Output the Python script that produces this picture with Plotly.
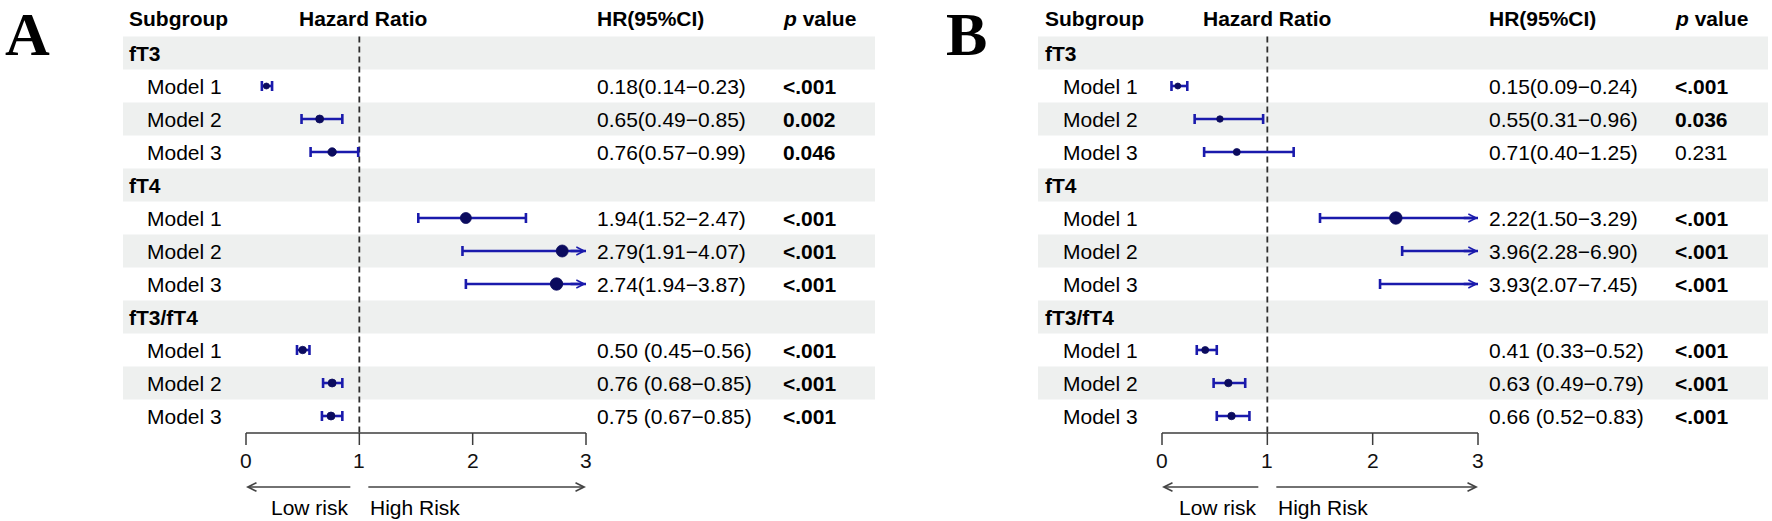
import plotly.graph_objects as go

# ---------------- data ----------------
groups = ["fT3", "fT4", "fT3/fT4"]
models = ["Model 1", "Model 2", "Model 3"]

a_hr = [0.18, 0.65, 0.76, 1.94, 2.79, 2.74, 0.50, 0.76, 0.75]
a_lo = [0.14, 0.49, 0.57, 1.52, 1.91, 1.94, 0.45, 0.68, 0.67]
a_hi = [0.23, 0.85, 0.99, 2.47, 4.07, 3.87, 0.56, 0.85, 0.85]
a_p = ["<.001", "0.002", "0.046", "<.001", "<.001", "<.001", "<.001", "<.001", "<.001"]

b_hr = [0.15, 0.55, 0.71, 2.22, 3.96, 3.93, 0.41, 0.63, 0.66]
b_lo = [0.09, 0.31, 0.40, 1.50, 2.28, 2.07, 0.33, 0.49, 0.52]
b_hi = [0.24, 0.96, 1.25, 3.29, 6.90, 7.45, 0.52, 0.79, 0.83]
b_p = ["<.001", "0.036", "0.231", "<.001", "<.001", "<.001", "<.001", "<.001", "<.001"]

axis_ticks = [0, 1, 2, 3]
tick_labels = ["0", "1", "2", "3"]
ref_value = 1
col_headers = ["Subgroup", "Hazard Ratio", "HR(95%CI)", "<i>p</i> value"]
risk_labels = ["Low risk", "High Risk"]
panel_letters = ["A", "B"]

# ---------------- layout / style ----------------
W, H = 1772, 521
FONT = "Liberation Sans"
FS = 21
ROW0_PX, ROW_PX = 53, 33
HEADER_PX = 18
AXIS_PX, TICK_LEN_PX, TICKLAB_PX = 433, 12, 460
ARROW_PX, RISK_PX = 487, 507
LINE_C = "#1a1aac"
PT_C = "#0b0b5e"
BAND_C = "#eef0ef"
HR_SEP = ["", "", " "]  # separator before "(" per group
LETTER_FS = 62

PANELS = [
    dict(letter_px=27.5, x0=246, x3=586, band=(123, 875), grp=129, mod=147,
         hrh=299, hr=597, p=783,
         sizes=[6, 8, 8.5, 11, 12, 12.5, 7.5, 8, 8],
         hr_v=a_hr, lo_v=a_lo, hi_v=a_hi, p_v=a_p),
    dict(letter_px=966, x0=1162, x3=1478, band=(1038, 1768), grp=1045, mod=1063,
         hrh=1203, hr=1489, p=1675,
         sizes=[6, 6.5, 7, 12.5, 12, 12, 7, 7.5, 7.5],
         hr_v=b_hr, lo_v=b_lo, hi_v=b_hi, p_v=b_p),
]


def py2r(py):
    return (py - ROW0_PX) / ROW_PX


def p_num(s):
    return 0.001 if s.startswith("<") else float(s)


xmax = axis_ticks[-1]
fig = go.Figure()
annotations = []
shapes = []
layout_axes = {}

for k, P in enumerate(PANELS):
    xa = "x" if k == 0 else "x2"
    unit = (P["x3"] - P["x0"]) / xmax

    def px2x(px, P=P, unit=unit):
        return (px - P["x0"]) / unit

    axname = "xaxis" if k == 0 else "xaxis2"
    ax = dict(range=[px2x(0), px2x(W)], visible=False, fixedrange=True)
    if k == 1:
        ax["overlaying"] = "x"
    layout_axes[axname] = ax

    # row bands
    nrows = len(groups) * (len(models) + 1)
    for r in range(0, nrows, 2):
        shapes.append(dict(type="rect", xref=xa, yref="y",
                           x0=px2x(P["band"][0]), x1=px2x(P["band"][1]),
                           y0=r - 0.5, y1=r + 0.5, fillcolor=BAND_C,
                           line=dict(width=0), layer="below"))

    # reference dashed line
    r_axis = py2r(AXIS_PX)
    fig.add_trace(go.Scatter(x=[ref_value, ref_value], y=[-0.5, r_axis], xaxis=xa, yaxis="y",
                             mode="lines", line=dict(color="#2e2e2e", width=1.8, dash="6px,4px"),
                             hoverinfo="skip", showlegend=False))

    # axis line and ticks
    ax_x = [axis_ticks[0], axis_ticks[-1], None]
    ax_y = [r_axis, r_axis, None]
    r_tick = py2r(AXIS_PX + TICK_LEN_PX)
    for t in axis_ticks:
        ax_x += [t, t, None]
        ax_y += [r_axis, r_tick, None]
    fig.add_trace(go.Scatter(x=ax_x, y=ax_y, xaxis=xa, yaxis="y", mode="lines",
                             line=dict(color="#3c3c3c", width=1.5),
                             hoverinfo="skip", showlegend=False))
    for t, lab in zip(axis_ticks, tick_labels):
        annotations.append(dict(x=t, y=py2r(TICKLAB_PX), xref=xa, yref="y", text=lab,
                                showarrow=False, xanchor="center", yanchor="middle",
                                font=dict(family=FONT, size=FS, color="#111")))

    # CI lines, caps, points
    ci_x, ci_y, cap_x, cap_y = [], [], [], []
    pt_x, pt_y, pt_s = [], [], []
    ch = 5 / ROW_PX
    for g, grp in enumerate(groups):
        r_g = g * (len(models) + 1)
        annotations.append(dict(x=px2x(P["grp"] - 2), y=r_g, xref=xa, yref="y",
                                text="<b>%s</b>" % grp, showarrow=False,
                                xanchor="left", yanchor="middle",
                                font=dict(family=FONT, size=FS, color="black")))
        for m, mod in enumerate(models):
            i = g * len(models) + m
            r = r_g + 1 + m
            hr, lo, hi, p = P["hr_v"][i], P["lo_v"][i], P["hi_v"][i], P["p_v"][i]
            annotations.append(dict(x=px2x(P["mod"] - 2), y=r, xref=xa, yref="y",
                                    text=mod, showarrow=False, xanchor="left", yanchor="middle",
                                    font=dict(family=FONT, size=FS, color="black")))
            hr_txt = "%.2f%s(%.2f\u2212%.2f)" % (hr, HR_SEP[g], lo, hi)
            annotations.append(dict(x=px2x(P["hr"] - 2), y=r, xref=xa, yref="y",
                                    text=hr_txt, showarrow=False, xanchor="left", yanchor="middle",
                                    font=dict(family=FONT, size=FS, color="black")))
            p_txt = "<b>%s</b>" % p if p_num(p) < 0.05 else p
            annotations.append(dict(x=px2x(P["p"] - 2), y=r, xref=xa, yref="y",
                                    text=p_txt, showarrow=False, xanchor="left", yanchor="middle",
                                    font=dict(family=FONT, size=FS, color="black")))
            end = min(hi, xmax)
            ci_x += [lo, end, None]
            ci_y += [r, r, None]
            cap_x += [lo, lo, None]
            cap_y += [r - ch, r + ch, None]
            if hi <= xmax:
                cap_x += [hi, hi, None]
                cap_y += [r - ch, r + ch, None]
            else:
                annotations.append(dict(x=xmax, y=r, xref=xa, yref="y",
                                        ax=xmax - 0.15, ay=r, axref=xa, ayref="y",
                                        text="", showarrow=True, arrowhead=5,
                                        arrowsize=0.6, arrowwidth=2.6, arrowcolor=LINE_C))
            if hr <= xmax:
                pt_x.append(hr)
                pt_y.append(r)
                pt_s.append(P["sizes"][i])

    fig.add_trace(go.Scatter(x=ci_x, y=ci_y, xaxis=xa, yaxis="y", mode="lines",
                             line=dict(color=LINE_C, width=2.6), hoverinfo="skip", showlegend=False))
    fig.add_trace(go.Scatter(x=cap_x, y=cap_y, xaxis=xa, yaxis="y", mode="lines",
                             line=dict(color=LINE_C, width=2.6), hoverinfo="skip", showlegend=False))
    fig.add_trace(go.Scatter(x=pt_x, y=pt_y, xaxis=xa, yaxis="y", mode="markers",
                             marker=dict(color=PT_C, size=pt_s, opacity=1,
                                         line=dict(width=0.8, color=PT_C)),
                             showlegend=False))

    # headers
    head_px = [P["grp"], P["hrh"], P["hr"], P["p"]]
    for txt, hp in zip(col_headers, head_px):
        annotations.append(dict(x=px2x(hp - 2), y=py2r(HEADER_PX), xref=xa, yref="y",
                                text="<b>%s</b>" % txt, showarrow=False,
                                xanchor="left", yanchor="middle",
                                font=dict(family=FONT, size=FS, color="black")))

    # risk arrows & labels
    gap = 7.5 / unit
    tgap = 8.5 / unit
    r_arr = py2r(ARROW_PX)
    annotations.append(dict(x=axis_ticks[0], y=r_arr, xref=xa, yref="y",
                            ax=ref_value - gap, ay=r_arr, axref=xa, ayref="y",
                            text="", showarrow=True, arrowhead=5, arrowsize=1.3,
                            arrowwidth=1.3, arrowcolor="#444"))
    annotations.append(dict(x=axis_ticks[-1], y=r_arr, xref=xa, yref="y",
                            ax=ref_value + gap, ay=r_arr, axref=xa, ayref="y",
                            text="", showarrow=True, arrowhead=5, arrowsize=1.3,
                            arrowwidth=1.3, arrowcolor="#444"))
    annotations.append(dict(x=ref_value - tgap, y=py2r(RISK_PX), xref=xa, yref="y",
                            text=risk_labels[0], showarrow=False, xanchor="right",
                            yanchor="middle", font=dict(family=FONT, size=FS, color="black")))
    annotations.append(dict(x=ref_value + tgap, y=py2r(RISK_PX), xref=xa, yref="y",
                            text=risk_labels[1], showarrow=False, xanchor="left",
                            yanchor="middle", font=dict(family=FONT, size=FS, color="black")))

    # panel letter
    annotations.append(dict(x=P["letter_px"] / W, y=1 + 2 / H, xref="paper", yref="paper",
                            text="<b>%s</b>" % panel_letters[k], showarrow=False,
                            xanchor="center", yanchor="top",
                            font=dict(family="Liberation Serif", size=LETTER_FS, color="black")))

fig.update_layout(
    width=W, height=H, autosize=False,
    margin=dict(l=0, r=0, t=0, b=0, pad=0),
    paper_bgcolor="white", plot_bgcolor="white",
    yaxis=dict(range=[py2r(H), py2r(0)], visible=False, fixedrange=True),
    annotations=annotations, shapes=shapes,
    **layout_axes,
)

fig.write_html("out.html", post_script="document.body.style.margin='0';",
               config={"displayModeBar": False})
